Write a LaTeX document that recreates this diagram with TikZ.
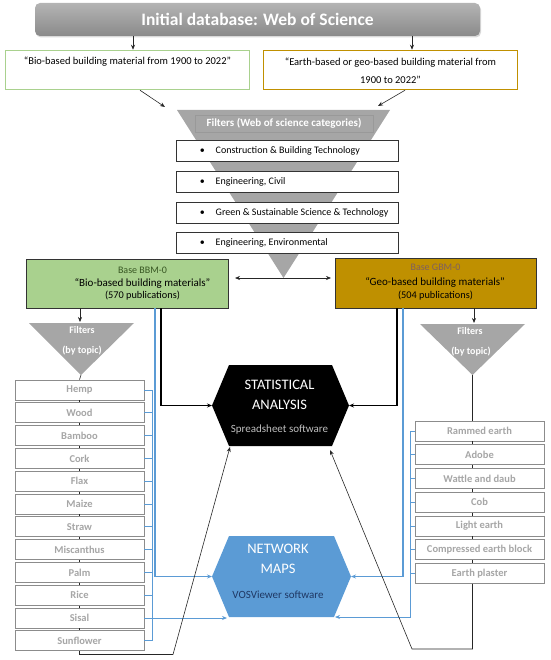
\documentclass[tikz,border=0pt]{standalone}
\usepackage{fontspec}
\setmainfont{Carlito}
\usetikzlibrary{arrows.meta,calc,shadows}
\definecolor{fgray}{HTML}{A6A6A6}
\definecolor{greenedge}{HTML}{A9D18E}
\definecolor{orangeedge}{HTML}{C09000}
\definecolor{bbmfill}{HTML}{A9D18E}
\definecolor{gbmfill}{HTML}{BF9000}
\definecolor{bbmtext}{HTML}{385723}
\definecolor{gbmtext}{HTML}{7F6060}
\definecolor{netblue}{HTML}{5B9BD5}
\definecolor{navytext}{HTML}{1F3864}
\definecolor{listtext}{HTML}{A6A6A6}
\definecolor{bannertop}{HTML}{B4B4B4}
\definecolor{bannerbot}{HTML}{8A8A8A}
\begin{document}
\begin{tikzpicture}[x=1pt,y=-1pt,
  arr/.style={-{Stealth[length=5pt,width=4pt]}},
  thinln/.style={line width=0.6pt, black!85},
  thickln/.style={line width=1.4pt, black},
  bl/.style={line width=1.3pt, netblue},
  blthin/.style={line width=0.9pt, netblue},
  catbox/.style={draw=black!80, line width=0.9pt, fill=white, minimum width=222pt, minimum height=21pt, inner sep=0pt},
  cattext/.style={anchor=west, font=\fontsize{10}{12}\selectfont, inner sep=0pt},
  listbox/.style={draw=black!45, line width=0.8pt, fill=white, minimum width=129pt, minimum height=20pt, inner sep=0pt, text=listtext, font=\bfseries\fontsize{10.5}{12}\selectfont},
  tritext/.style={text=white, font=\bfseries\fontsize{10}{12}\selectfont, inner sep=0pt},
  hextitle/.style={text=white, font=\fontsize{14.5}{16}\selectfont, inner sep=0pt},
  hexsub/.style={font=\fontsize{11}{13}\selectfont, inner sep=0pt},
]
\useasboundingbox (0,0) rectangle (550,660);

% banner
\node[rounded corners=5pt, minimum width=445pt, minimum height=33pt, top color=bannertop, bottom color=bannerbot, drop shadow={shadow xshift=1pt, shadow yshift=-1.5pt, opacity=0.3}, text=white, font=\bfseries\fontsize{17.5}{20}\selectfont] (db) at (257.5,19.5) {Initial database: Web of Science};

% query boxes
\node[draw=greenedge, line width=1.5pt, minimum width=244pt, minimum height=39pt, inner sep=0pt] (bio) at (127.5,70) {};
\node[font=\fontsize{10.5}{12}\selectfont] (biot) at (127.5,62) {“Bio-based building material from 1900 to 2022”};
\node[draw=orangeedge, line width=1.5pt, minimum width=254pt, minimum height=39pt, inner sep=0pt] (geo) at (390.5,70) {};
\node[font=\fontsize{10.5}{18}\selectfont, align=center] (geot) at (390.5,71) {“Earth-based or geo-based building material from\\1900 to 2022”};

\coordinate (bioIn) at ($(bio.north)+(5.5,0)$);
\coordinate (geoIn) at ($(geo.north)+(21.5,0)$);
\draw[thinln,arr] (bioIn |- db.south) -- (bioIn);
\draw[thinln,arr] (geoIn |- db.south) -- (geoIn);

% funnel
\coordinate (fTL) at (177,110);
\coordinate (fTR) at (390,110);
\coordinate (fA) at (283.5,278);
\fill[fgray] (fTL) -- (fTR) -- (fA) -- cycle;
\node[draw=black!40, line width=0.7pt, fill=fgray, minimum width=178pt, minimum height=17pt, inner sep=0pt, text=white, font=\bfseries\fontsize{11}{13}\selectfont] (filt) at (284,123.5) {Filters (Web of science categories)};

\coordinate (bioOut) at ($(bio.south)+(12.5,0)$);
\coordinate (fInL) at (165,107);
\draw[thinln,arr] (bioOut) -- (fInL);
\coordinate (geoOut) at ($(geo.south)+(14.5,0)$);
\coordinate (fInR) at (378,106);
\draw[thinln,arr] (geoOut) -- (fInR);

\node[catbox] (c1) at (287,151) {};
\node[cattext] (c1t) at ($(c1.west)+(24,0)$) {\textbullet\hspace{11pt}Construction \& Building Technology};
\node[catbox] (c2) at (287,181.5) {};
\node[cattext] (c2t) at ($(c2.west)+(24,0)$) {\textbullet\hspace{11pt}Engineering, Civil};
\node[catbox] (c3) at (287,212.5) {};
\node[cattext] (c3t) at ($(c3.west)+(24,0)$) {\textbullet\hspace{11pt}Green \& Sustainable Science \& Technology};
\node[catbox] (c4) at (287,243) {};
\node[cattext] (c4t) at ($(c4.west)+(24,0)$) {\textbullet\hspace{11pt}Engineering, Environmental};

\coordinate (apL) at (235,278);
\coordinate (apR) at (331,278);
\draw[thinln,arr] (fA) -- (apL);
\draw[thinln,arr] (fA) -- (apR);

% base boxes
\node[draw=black!80, line width=0.9pt, fill=bbmfill, minimum width=202pt, minimum height=49pt, inner sep=0pt] (bbm) at (127,283.5) {};
\node[text=bbmtext, font=\fontsize{10}{12}\selectfont, inner sep=0pt] (bbm1) at (142.5,270) {Base BBM-0};
\node[font=\fontsize{11}{13}\selectfont, inner sep=0pt] (bbm2) at (142.5,283) {“Bio-based building materials”};
\node[font=\fontsize{10.3}{12}\selectfont, inner sep=0pt] (bbm3) at (142.5,296) {(570 publications)};

\node[draw=black!80, line width=0.9pt, fill=gbmfill, minimum width=201pt, minimum height=50pt, inner sep=0pt] (gbm) at (435.5,283) {};
\node[text=gbmtext, font=\fontsize{10}{12}\selectfont, inner sep=0pt] (gbm1) at (435.5,267.5) {Base GBM-0};
\node[font=\fontsize{11}{13}\selectfont, inner sep=0pt] (gbm2) at (435,282) {“Geo-based building materials”};
\node[font=\fontsize{10.3}{12}\selectfont, inner sep=0pt] (gbm3) at (435.5,295.5) {(504 publications)};

% hexagons
\coordinate (sL) at (212,405.5);
\coordinate (sTL) at (229,365);
\coordinate (sTR) at (332,365);
\coordinate (sR) at (349,405.5);
\coordinate (sBR) at (332,446);
\coordinate (sBL) at (229,446);
\fill[black] (sL) -- (sTL) -- (sTR) -- (sR) -- (sBR) -- (sBL) -- cycle;
\node[hextitle] (st1) at (279.5,385) {STATISTICAL};
\node[hextitle] (st2) at (279.5,405) {ANALYSIS};
\node[hexsub, text=black!25] (st3) at (279.5,430) {Spreadsheet software};

\coordinate (nL) at (212,576.5);
\coordinate (nTL) at (229,536);
\coordinate (nTR) at (334,536);
\coordinate (nR) at (351,576.5);
\coordinate (nBR) at (334,617);
\coordinate (nBL) at (229,617);
\fill[netblue] (nL) -- (nTL) -- (nTR) -- (nR) -- (nBR) -- (nBL) -- cycle;
\node[hextitle] (nt1) at (278,549) {NETWORK};
\node[hextitle] (nt2) at (278,569) {MAPS};
\node[hexsub, text=navytext] (nt3) at (278,595) {VOSViewer software};

% base -> hexagons
\coordinate (bbmK) at (161,0);
\coordinate (bbmB) at (155,0);
\coordinate (gbmK) at (397,0);
\coordinate (gbmB) at (403,0);
\draw[bl,arr] (bbmB |- bbm.south) |- (nL);
\draw[thickln,arr] (bbmK |- bbm.south) |- (sL);
\draw[bl,arr] (gbmB |- gbm.south) |- (nR);
\draw[thickln,arr] (gbmK |- gbm.south) |- (sR);

% topic filters
\coordinate (ltA) at (81,375);
\fill[fgray] (29,323) -- (134,323) -- (ltA) -- cycle;
\node[tritext] (ltf1) at (82,330) {Filters};
\node[tritext] (ltf2) at (82,350.5) {(by topic)};
\coordinate (bbmF) at (80,322);
\draw[thinln,arr] (bbmF |- bbm.south) -- (bbmF);

\coordinate (rtA) at (472.5,375);
\fill[fgray] (420,324) -- (525,324) -- (rtA) -- cycle;
\node[tritext] (rtf1) at (470,331) {Filters};
\node[tritext] (rtf2) at (471,351.5) {(by topic)};
\coordinate (gbmF) at (474,323);
\draw[thinln,arr] (gbmF |- gbm.south) -- (gbmF);

% lists
\foreach \t [count=\i] in {Hemp,Wood,Bamboo,Cork,Flax,Maize,Straw,Miscanthus,Palm,Rice,Sisal,Sunflower}
  \node[listbox] (l\i) at (79.5,{390+22.8*(\i-1)}) {\t};
\foreach \t [count=\i] in {Rammed earth,Adobe,Wattle and daub,Cob,Light earth,Compressed earth block,Earth plaster}
  \node[listbox] (r\i) at (479.5,{431+23.75*(\i-1)}) {\t};

\draw[thinln] (ltA) -- (l1.north);
\foreach \i in {1,...,11} {\pgfmathtruncatemacro\j{\i+1}\draw[thinln] (l\i.south) -- (l\j.north);}
\coordinate (rline) at (472.5,0);
\draw[thinln] (rtA) -- (rline |- r1.north);
\foreach \i in {1,...,6} {\pgfmathtruncatemacro\j{\i+1}\draw[thinln] (rline |- r\i.south) -- (rline |- r\j.north);}

% blue brackets
\coordinate (lbr) at (152,0);
\draw[blthin] (l1.east -| lbr) -- (l12.east -| lbr);
\foreach \i in {1,...,12} \draw[blthin] (l\i.east) -- (l\i.east -| lbr);
\coordinate (nInL) at (227,0);
\draw[blthin,arr] (l11.east -| lbr) -- (l11.east -| nInL);

\coordinate (rbr) at (410,0);
\foreach \i in {1,...,7} \draw[blthin] (r\i.west) -- (r\i.west -| rbr);
\coordinate (nInR) at (335,617);
\draw[blthin,arr] (r1.west -| rbr) -- (rbr |- nInR) -- (nInR);

% bottom return lines
\coordinate (lbot) at (173,654.5);
\coordinate (sInL) at (230,447);
\draw[thinln,arr] (l12.south) |- (lbot) -- (sInL);
\coordinate (rbot) at (412,649);
\coordinate (sInR) at (330,450);
\draw[thinln,arr] (rline |- r7.south) |- (rbot) -- (sInR);
\end{tikzpicture}
\end{document}
